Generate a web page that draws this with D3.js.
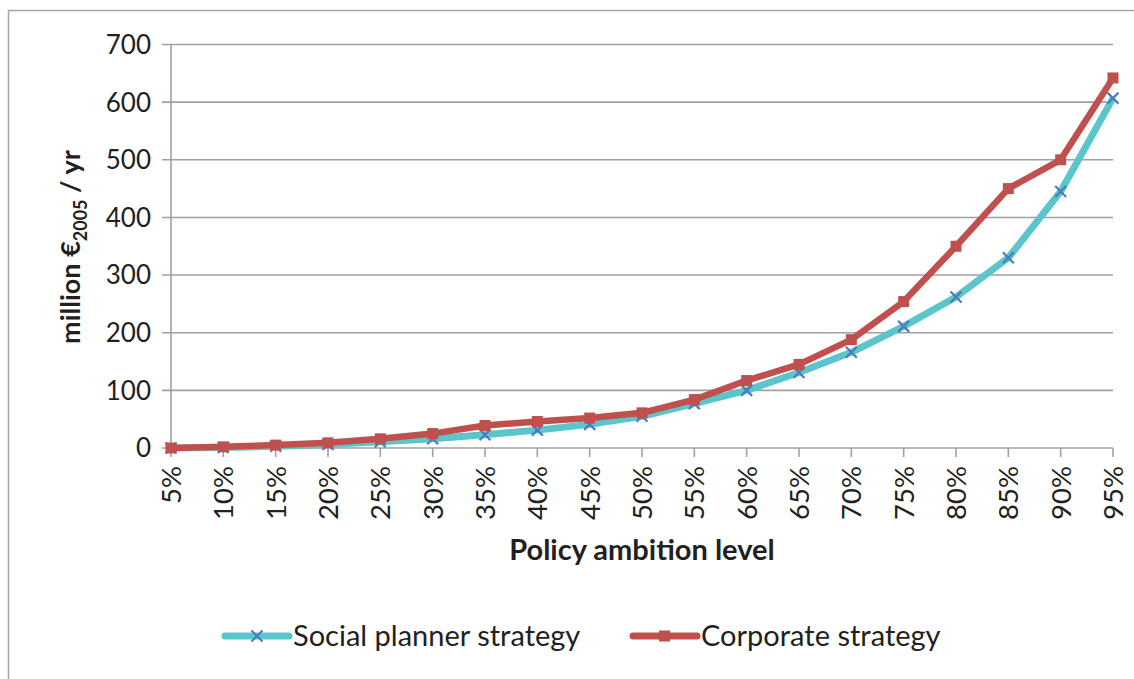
<!DOCTYPE html>
<html>
<head>
<meta charset="utf-8">
<script src="https://cdn.jsdelivr.net/npm/d3@7/dist/d3.min.js"></script>
<style>
    body { margin: 0; background: #fff; }
    text { font-family: Lato, "Open Sans", sans-serif; fill: #231f20; }
</style>
</head>
<body>
<div id="chart"></div>
<script>
// categories (policy ambition level)
const levels = ["5%", "10%", "15%", "20%", "25%", "30%", "35%", "40%", "45%", "50%",
    "55%", "60%", "65%", "70%", "75%", "80%", "85%", "90%", "95%"];

// series values, million EUR2005 / yr
const socialPlanner = [0, 1, 3, 6, 11, 16, 23, 31, 41, 55, 77, 100, 131, 166, 211, 262, 330, 445, 607];
const corporate = [0, 2, 5, 9, 16, 25, 39, 46, 52, 61, 84, 117, 145, 188, 254, 350, 450, 500, 642];

const yTicks = [0, 100, 200, 300, 400, 500, 600, 700];

const draw = (parent) => {
    const width = 1134, height = 679;
    const margin = { top: 44.5, right: 21, bottom: 231, left: 171 };

    const svg = d3.select(parent).append("svg")
        .attr("width", width)
        .attr("height", height);

    // outer frame (top + left only visible)
    svg.append("path")
        .attr("d", `M8.5,${height} V10.5 H${width}`)
        .attr("fill", "none")
        .attr("stroke", "#a6a6a6")
        .attr("stroke-width", 1.5);

    const x = d3.scalePoint()
        .domain(levels)
        .range([margin.left, width - margin.right]);

    const y = d3.scaleLinear()
        .domain([0, 700])
        .range([height - margin.bottom, margin.top]);

    // gridlines
    svg.append("g")
        .selectAll("line")
        .data(yTicks)
        .enter().append("line")
        .attr("x1", margin.left - 9)
        .attr("x2", width - margin.right)
        .attr("y1", d => y(d))
        .attr("y2", d => y(d))
        .attr("stroke", "#a0a0a0")
        .attr("stroke-width", 1.6);

    // y axis line
    svg.append("line")
        .attr("x1", margin.left).attr("x2", margin.left)
        .attr("y1", y(700)).attr("y2", y(0))
        .attr("stroke", "#a0a0a0")
        .attr("stroke-width", 1.6);

    // x tick marks
    svg.append("g")
        .selectAll("line")
        .data(levels)
        .enter().append("line")
        .attr("x1", d => x(d)).attr("x2", d => x(d))
        .attr("y1", y(0)).attr("y2", y(0) + 9)
        .attr("stroke", "#a0a0a0")
        .attr("stroke-width", 1.6);

    // y tick labels
    svg.append("g")
        .selectAll("text")
        .data(yTicks)
        .enter().append("text")
        .attr("x", margin.left - 20)
        .attr("y", d => y(d))
        .attr("dy", "0.36em")
        .attr("text-anchor", "end")
        .style("font-size", "26px")
        .text(d => d);

    // x tick labels (rotated)
    svg.append("g")
        .selectAll("text")
        .data(levels)
        .enter().append("text")
        .attr("transform", d => `translate(${x(d)},${y(0) + 18}) rotate(-90)`)
        .attr("dy", "0.36em")
        .attr("text-anchor", "end")
        .style("font-size", "27.5px")
        .text(d => d);

    // axis titles
    svg.append("text")
        .attr("x", (margin.left + width - margin.right) / 2)
        .attr("y", 560)
        .attr("text-anchor", "middle")
        .style("font-size", "29px")
        .style("font-weight", "bold")
        .text("Policy ambition level");

    const yTitle = svg.append("text")
        .attr("transform", "translate(80,247) rotate(-90)")
        .attr("text-anchor", "middle")
        .style("font-size", "27px")
        .style("font-weight", "bold");
    yTitle.append("tspan").text("million €");
    yTitle.append("tspan").attr("dy", 7).style("font-size", "18px").text("2005");
    yTitle.append("tspan").attr("dy", -7).text(" / yr");

    const line = d3.line()
        .x((d, i) => x(levels[i]))
        .y(d => y(d));

    // social planner series
    svg.append("path")
        .datum(socialPlanner)
        .attr("d", line)
        .attr("fill", "none")
        .attr("stroke", "#5bc5cc")
        .attr("stroke-width", 7)
        .attr("stroke-linejoin", "round");

    const cross = (g, cx, cy, r) => {
        g.append("path")
            .attr("d", `M${cx - r},${cy - r}L${cx + r},${cy + r}M${cx - r},${cy + r}L${cx + r},${cy - r}`)
            .attr("stroke", "#4a7ebb")
            .attr("stroke-width", 2.2)
            .attr("fill", "none");
    };

    const crosses = svg.append("g");
    socialPlanner.forEach((v, i) => cross(crosses, x(levels[i]), y(v), 5.5));

    // corporate series
    svg.append("path")
        .datum(corporate)
        .attr("d", line)
        .attr("fill", "none")
        .attr("stroke", "#c0504d")
        .attr("stroke-width", 6.5)
        .attr("stroke-linejoin", "round");

    svg.append("g")
        .selectAll("rect")
        .data(corporate)
        .enter().append("rect")
        .attr("x", (d, i) => x(levels[i]) - 5.5)
        .attr("y", d => y(d) - 5.5)
        .attr("width", 11)
        .attr("height", 11)
        .attr("fill", "#c0504d");

    // legend
    const legendY = 636;
    const legend = svg.append("g");

    legend.append("line")
        .attr("x1", 225).attr("x2", 289)
        .attr("y1", legendY).attr("y2", legendY)
        .attr("stroke", "#5bc5cc")
        .attr("stroke-width", 7)
        .attr("stroke-linecap", "round");
    cross(legend, 257, legendY, 5.5);
    legend.append("text")
        .attr("x", 293).attr("y", legendY)
        .attr("dy", "0.36em")
        .style("font-size", "29px")
        .text("Social planner strategy");

    legend.append("line")
        .attr("x1", 633).attr("x2", 697)
        .attr("y1", legendY).attr("y2", legendY)
        .attr("stroke", "#c0504d")
        .attr("stroke-width", 7)
        .attr("stroke-linecap", "round");
    legend.append("rect")
        .attr("x", 659).attr("y", legendY - 5.5)
        .attr("width", 11).attr("height", 11)
        .attr("fill", "#c0504d");
    legend.append("text")
        .attr("x", 701).attr("y", legendY)
        .attr("dy", "0.36em")
        .style("font-size", "29px")
        .text("Corporate strategy");
};

draw("#chart");
</script>
</body>
</html>
